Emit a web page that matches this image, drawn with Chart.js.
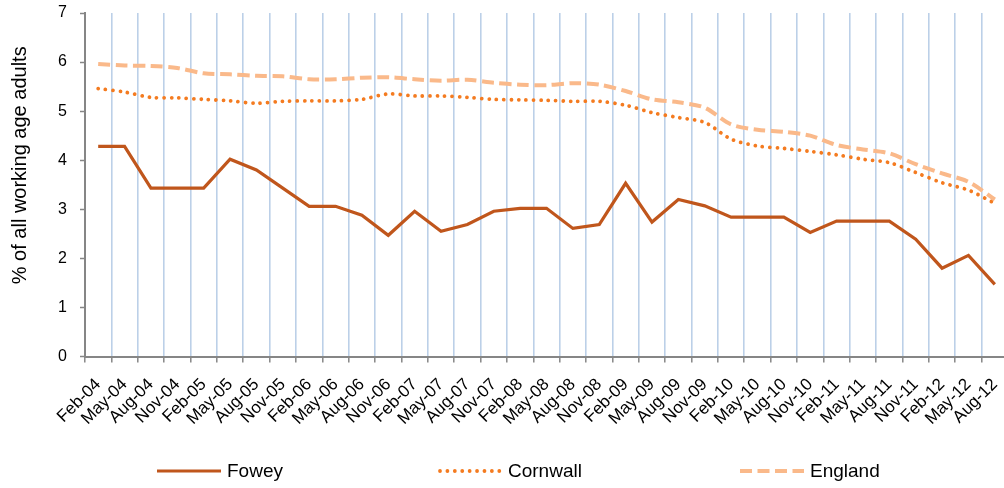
<!DOCTYPE html>
<html>
<head>
<meta charset="utf-8">
<script src="https://cdn.jsdelivr.net/npm/chart.js@4.4.1/dist/chart.umd.min.js"></script>
<style>
  html, body { margin: 0; padding: 0; background: #fff; overflow: hidden; width: 1004px; height: 488px; }
  #wrap { position: absolute; left: 0; top: 0; width: 1008px; height: 488px; }
  #legend { position: absolute; left: 0; top: 0; width: 1004px; height: 488px; pointer-events: none;
    font-family: "Liberation Sans", Arial, sans-serif; font-size: 19px; color: #000; }
  .item { position: absolute; top: 459px; height: 24px; display: flex; align-items: center; }
  .item svg { margin-right: 6px; }
</style>
</head>
<body>
<div id="wrap"><canvas id="c"></canvas></div>
<div id="legend"></div>
<script>
const categories = ['Feb-04','May-04','Aug-04','Nov-04','Feb-05','May-05','Aug-05','Nov-05',
  'Feb-06','May-06','Aug-06','Nov-06','Feb-07','May-07','Aug-07','Nov-07',
  'Feb-08','May-08','Aug-08','Nov-08','Feb-09','May-09','Aug-09','Nov-09',
  'Feb-10','May-10','Aug-10','Nov-10','Feb-11','May-11','Aug-11','Nov-11',
  'Feb-12','May-12','Aug-12'];
const seriesNames = ['Fowey', 'Cornwall', 'England'];
const fowey = [4.28,4.28,3.43,3.43,3.43,4.02,3.80,3.43,3.06,3.06,2.88,2.47,2.96,2.55,2.69,2.96,
  3.02,3.02,2.61,2.69,3.53,2.74,3.20,3.07,2.84,2.84,2.84,2.53,2.76,2.76,2.76,2.39,1.80,2.06,1.47];
const cornwall = [5.46,5.39,5.28,5.27,5.24,5.21,5.16,5.20,5.21,5.21,5.24,5.35,5.31,5.31,5.28,5.24,
  5.23,5.22,5.20,5.20,5.12,4.97,4.87,4.77,4.43,4.29,4.24,4.18,4.11,4.02,3.95,3.75,3.54,3.39,3.12];
const england = [5.96,5.93,5.92,5.88,5.77,5.75,5.72,5.71,5.65,5.65,5.68,5.69,5.65,5.62,5.64,5.58,
  5.54,5.53,5.57,5.54,5.41,5.24,5.18,5.07,4.73,4.62,4.58,4.50,4.31,4.22,4.14,3.92,3.73,3.56,3.20];
const yTicks = [0,1,2,3,4,5,6,7];
const yTitle = '% of all working age adults';

const FONT = '"Liberation Sans", Arial, sans-serif';
const AXIS = '#868686';
const GRID = '#BCD0E8';

const datasets = [
  { label: seriesNames[0], data: fowey, borderColor: '#C0561C', borderWidth: 3.2, tension: 0,
    borderDash: [], borderCapStyle: 'butt', borderJoinStyle: 'miter' },
  { label: seriesNames[1], data: cornwall, borderColor: '#F47B20', borderWidth: 3.8, tension: 0.3,
    borderDash: [0.01, 7.4], borderCapStyle: 'round' },
  { label: seriesNames[2], data: england, borderColor: '#FAB98A', borderWidth: 4, tension: 0.3,
    borderDash: [12, 5.5], borderCapStyle: 'butt' }
];
datasets.forEach(d => { d.pointRadius = 0; d.pointHoverRadius = 0; d.fill = false; d.backgroundColor = d.borderColor; });

new Chart(document.getElementById('c'), {
  type: 'line',
  data: { labels: categories, datasets: datasets },
  options: {
    responsive: true,
    maintainAspectRatio: false,
    animation: false,
    events: [],
    layout: { padding: { top: 13, right: 0, bottom: 0, left: 0 } },
    plugins: { legend: { display: false }, tooltip: { enabled: false } },
    scales: {
      x: {
        type: 'category',
        offset: true,
        grid: { offset: true, color: GRID, lineWidth: 1.6, tickColor: AXIS, tickLength: 6, tickWidth: 1.5, drawOnChartArea: true },
        border: { display: true, color: AXIS, width: 2 },
        ticks: { autoSkip: false, minRotation: 45, maxRotation: 45, padding: 12, color: '#000',
          font: { family: FONT, size: 17 } },
        afterFit: s => { s.height = 131.5; s.paddingRight = 0; }
      },
      y: {
        min: 0, max: 7,
        afterBuildTicks: s => { s.ticks = yTicks.map(v => ({ value: v })); },
        grid: { drawOnChartArea: false, color: AXIS, tickLength: 5, tickWidth: 1.5 },
        border: { display: true, color: AXIS, width: 2 },
        ticks: { padding: 13, color: '#000', font: { family: FONT, size: 16 } },
        title: { display: true, text: '       ' + yTitle, color: '#000',
          font: { family: FONT, size: 20 }, padding: { top: 8, bottom: 0 } },
        afterFit: s => { s.width = 85; s.paddingTop = 0; s.paddingBottom = 0; }
      }
    }
  }
});

// HTML legend built from the datasets
const legendPos = [157, 438, 740];
const legend = document.getElementById('legend');
datasets.forEach((d, i) => {
  const item = document.createElement('div');
  item.className = 'item';
  item.style.left = legendPos[i] + 'px';
  const ns = 'http://www.w3.org/2000/svg';
  const svg = document.createElementNS(ns, 'svg');
  svg.setAttribute('width', '64'); svg.setAttribute('height', '10');
  const ln = document.createElementNS(ns, 'line');
  ln.setAttribute('x1', i === 1 ? '2' : '0'); ln.setAttribute('x2', i === 1 ? '63' : '64');
  ln.setAttribute('y1', '5'); ln.setAttribute('y2', '5');
  ln.setAttribute('stroke', d.borderColor);
  ln.setAttribute('stroke-width', d.borderWidth);
  ln.setAttribute('stroke-linecap', d.borderCapStyle);
  if (d.borderDash.length) ln.setAttribute('stroke-dasharray', d.borderDash.join(' '));
  svg.appendChild(ln);
  const txt = document.createElement('span');
  txt.textContent = d.label;
  item.appendChild(svg); item.appendChild(txt);
  legend.appendChild(item);
});
</script>
</body>
</html>
